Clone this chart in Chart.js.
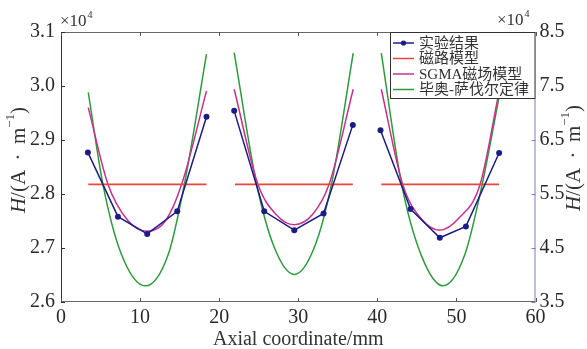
<!DOCTYPE html>
<html>
<head>
<meta charset="utf-8">
<script src="https://cdn.jsdelivr.net/npm/chart.js@4.4.1/dist/chart.umd.min.js"></script>
<style>
html, body { margin: 0; padding: 0; background: #fff; }
#caixa { width: 587px; height: 349px; }
</style>
</head>
<body>
<div id="caixa"><canvas id="myChart"></canvas></div>
<script>
// valores em 10^4 A/m, null separa os tres trechos
const expX = [3.4, 7.2, 10.9, 14.7, 18.4, null, 21.9, 25.7, 29.5, 33.2, 36.9, null, 40.4, 44.2, 47.9, 51.2, 55.4];
const expH = [2.877, 2.758, 2.726, 2.768, 2.943, null, 2.954, 2.768, 2.733, 2.764, 2.928, null, 2.918, 2.772, 2.719, 2.740, 2.876];

const circX = [3.45, 18.4, null, 22.0, 36.9, null, 40.5, 55.4];
const circH = [2.818, 2.818, null, 2.818, 2.818, null, 2.818, 2.818];

const sgmaX = [3.45, 5.94, 8.4, 10.9, 13.2, 15.26, 18.4, null, 21.9, 24.9, 27.2, 29.5, 31.8, 33.9, 36.95, null, 40.5, 43.2, 45.5, 47.9, 50.3, 53.0, 55.4];
const sgmaH = [2.960, 2.818, 2.752, 2.731, 2.750, 2.818, 2.991, null, 2.994, 2.818, 2.762, 2.743, 2.762, 2.818, 2.994, null, 2.994, 2.818, 2.755, 2.733, 2.755, 2.818, 2.990];

// Biot-Savart no eixo direito
const biotX = [3.45, 5.3, 7.6, 10.66, 13.6, 15.6, 18.4, null, 21.9, 24.74, 27.0, 29.5, 32.0, 34.2, 36.95, null, 40.5, 43.07, 45.6, 48.3, 51.0, 53.26, 55.4];
const biotH = [7.38, 5.68, 4.40, 3.80, 4.40, 5.68, 8.09, null, 8.12, 5.68, 4.50, 4.01, 4.50, 5.68, 8.11, null, 8.11, 5.68, 4.35, 3.80, 4.35, 5.68, 7.30];

const xTicks = [0, 10, 20, 30, 40, 50, 60];
const yTicks = [2.6, 2.7, 2.8, 2.9, 3.0, 3.1];
const y2Ticks = [3.5, 4.5, 5.5, 6.5, 7.5, 8.5];

const nomes = ['实验结果', '磁路模型', 'SGMA磁场模型', '毕奥-萨伐尔定律'];
const cores = ['#1c1c84', '#e8473c', '#c8308c', '#2e9a3c'];

const serif = "'Liberation Serif', 'Times New Roman', serif";
const cjk = "'Liberation Serif', 'Noto Sans CJK SC', serif";

function pares(xs, ys) {
    let out = [];
    for (let i = 0; i < xs.length; i++) {
        if (xs[i] === null) out.push({x: xs[i-1] + 0.5, y: null});
        else out.push({x: xs[i], y: ys[i]});
    }
    return out;
}

function titulo(ctx, cx, cy) {
    const partes = [
        ['italic 21px ' + serif, 'H', 0],
        ['21px ' + serif, '/(A \u2009\u00b7\u2009 m', 0],
        ['13px ' + serif, '\u22121', -8],
        ['21px ' + serif, ')', 0]
    ];
    let total = 0;
    partes.forEach(p => { ctx.font = p[0]; total += ctx.measureText(p[1]).width; });
    ctx.save();
    ctx.translate(cx, cy);
    ctx.rotate(-Math.PI / 2);
    ctx.textBaseline = 'middle';
    ctx.textAlign = 'left';
    let x = -total / 2;
    partes.forEach(p => {
        ctx.font = p[0];
        ctx.fillText(p[1], x, p[2]);
        x += ctx.measureText(p[1]).width;
    });
    ctx.restore();
}

function vezes(ctx, x, y) {
    ctx.font = '17px ' + serif;
    ctx.textAlign = 'left';
    ctx.textBaseline = 'alphabetic';
    ctx.fillText('\u00d710', x, y);
    let w = ctx.measureText('\u00d710').width;
    ctx.font = '10px ' + serif;
    ctx.fillText('4', x + w + 1, y - 8);
}

const moldura = {
    id: 'moldura',
    afterDraw(chart) {
        const ctx = chart.ctx;
        const a = chart.chartArea;
        const sx = chart.scales.x, sy = chart.scales.y, sy2 = chart.scales.y2;
        ctx.save();
        ctx.lineWidth = 1;
        // bordas
        ctx.strokeStyle = '#666';
        ctx.beginPath();
        ctx.moveTo(a.left, a.top + 0.5); ctx.lineTo(a.right, a.top + 0.5);
        ctx.moveTo(a.left, a.bottom - 0.5); ctx.lineTo(a.right, a.bottom - 0.5);
        ctx.stroke();
        ctx.strokeStyle = '#24247a';
        ctx.beginPath();
        ctx.moveTo(a.left + 0.5, a.top); ctx.lineTo(a.left + 0.5, a.bottom);
        ctx.stroke();
        ctx.strokeStyle = '#7c7cc4';
        ctx.beginPath();
        ctx.moveTo(a.right - 0.5, a.top); ctx.lineTo(a.right - 0.5, a.bottom);
        ctx.stroke();
        // ticks para dentro
        ctx.strokeStyle = '#555';
        ctx.beginPath();
        xTicks.forEach(v => {
            let px = Math.round(sx.getPixelForValue(v)) + 0.5;
            ctx.moveTo(px, a.bottom); ctx.lineTo(px, a.bottom - 4);
            ctx.moveTo(px, a.top); ctx.lineTo(px, a.top + 4);
        });
        ctx.stroke();
        ctx.strokeStyle = '#24247a';
        ctx.beginPath();
        yTicks.forEach(v => {
            let py = Math.round(sy.getPixelForValue(v)) + 0.5;
            ctx.moveTo(a.left, py); ctx.lineTo(a.left + 4, py);
        });
        ctx.stroke();
        ctx.strokeStyle = '#7c7cc4';
        ctx.beginPath();
        y2Ticks.forEach(v => {
            let py = Math.round(sy2.getPixelForValue(v)) + 0.5;
            ctx.moveTo(a.right, py); ctx.lineTo(a.right - 4, py);
        });
        ctx.stroke();

        // legenda
        const lx = 390, ly = 32, lw = a.right - 390, lh = 67;
        ctx.fillStyle = '#fff';
        ctx.fillRect(lx, ly, lw, lh);
        ctx.strokeStyle = '#333';
        ctx.strokeRect(lx + 0.5, ly + 0.5, lw - 1, lh - 1);
        const linhas = [43, 58.5, 74, 89.5];
        for (let i = 0; i < 4; i++) {
            ctx.strokeStyle = cores[i];
            ctx.lineWidth = 1.5;
            ctx.beginPath();
            ctx.moveTo(393, linhas[i]); ctx.lineTo(414, linhas[i]);
            ctx.stroke();
            if (i === 0) {
                ctx.fillStyle = cores[0];
                ctx.beginPath();
                ctx.arc(403.5, linhas[i], 2.6, 0, Math.PI * 2);
                ctx.fill();
            }
            ctx.fillStyle = '#333';
            ctx.font = '15px ' + cjk;
            ctx.textAlign = 'left';
            ctx.textBaseline = 'middle';
            ctx.fillText(nomes[i], 419, linhas[i] + 1);
        }

        // textos
        ctx.fillStyle = '#333';
        vezes(ctx, 60, 26);
        vezes(ctx, 497, 25);
        titulo(ctx, 19, 160);
        titulo(ctx, 574, 158);
        ctx.font = '20px ' + serif;
        ctx.textAlign = 'center';
        ctx.textBaseline = 'alphabetic';
        ctx.fillText('Axial coordinate/mm', (a.left + a.right) / 2, 345);
        ctx.restore();
    }
};

const ctx = document.getElementById('myChart');
const myChart = new Chart(ctx, {
    type: 'scatter',
    data: {
        datasets: [{
            label: nomes[0],
            data: pares(expX, expH),
            showLine: true,
            borderColor: cores[0],
            backgroundColor: cores[0],
            borderWidth: 1.5,
            pointRadius: 3,
            pointBorderWidth: 0,
            pointHoverRadius: 3,
            tension: 0,
            spanGaps: false,
            yAxisID: 'y'
        }, {
            label: nomes[1],
            data: pares(circX, circH),
            showLine: true,
            borderColor: cores[1],
            borderWidth: 1.8,
            pointRadius: 0,
            spanGaps: false,
            yAxisID: 'y'
        }, {
            label: nomes[2],
            data: pares(sgmaX, sgmaH),
            showLine: true,
            borderColor: cores[2],
            borderWidth: 1.5,
            pointRadius: 0,
            cubicInterpolationMode: 'monotone',
            spanGaps: false,
            yAxisID: 'y'
        }, {
            label: nomes[3],
            data: pares(biotX, biotH),
            showLine: true,
            borderColor: cores[3],
            borderWidth: 1.5,
            pointRadius: 0,
            cubicInterpolationMode: 'monotone',
            spanGaps: false,
            yAxisID: 'y2'
        }]
    },
    options: {
        responsive: true,
        maintainAspectRatio: false,
        animation: false,
        layout: { padding: { top: 32, left: 0, right: 0, bottom: 0 } },
        plugins: { legend: { display: false }, tooltip: { enabled: false } },
        scales: {
            x: {
                type: 'linear',
                min: 0,
                max: 60,
                afterBuildTicks: s => { s.ticks = xTicks.map(v => ({value: v})); },
                afterFit: s => { s.height = 47; },
                grid: { display: false, drawTicks: false },
                border: { display: false },
                ticks: { padding: 4, color: '#2a2a2a', font: { family: serif, size: 20 } }
            },
            y: {
                position: 'left',
                min: 2.6,
                max: 3.1,
                afterBuildTicks: s => { s.ticks = yTicks.map(v => ({value: v})); },
                afterFit: s => { s.width = 61; },
                grid: { display: false, drawTicks: false },
                border: { display: false },
                ticks: { padding: 6, color: '#2a2a2a', font: { family: serif, size: 20 },
                    callback: v => v.toFixed(1) }
            },
            y2: {
                position: 'right',
                min: 3.5,
                max: 8.5,
                afterBuildTicks: s => { s.ticks = y2Ticks.map(v => ({value: v})); },
                afterFit: s => { s.width = 51.5; },
                grid: { display: false, drawTicks: false },
                border: { display: false },
                ticks: { padding: 4, color: '#2a2a2a', font: { family: serif, size: 20 },
                    callback: v => v.toFixed(1) }
            }
        }
    },
    plugins: [moldura]
});
</script>
</body>
</html>
